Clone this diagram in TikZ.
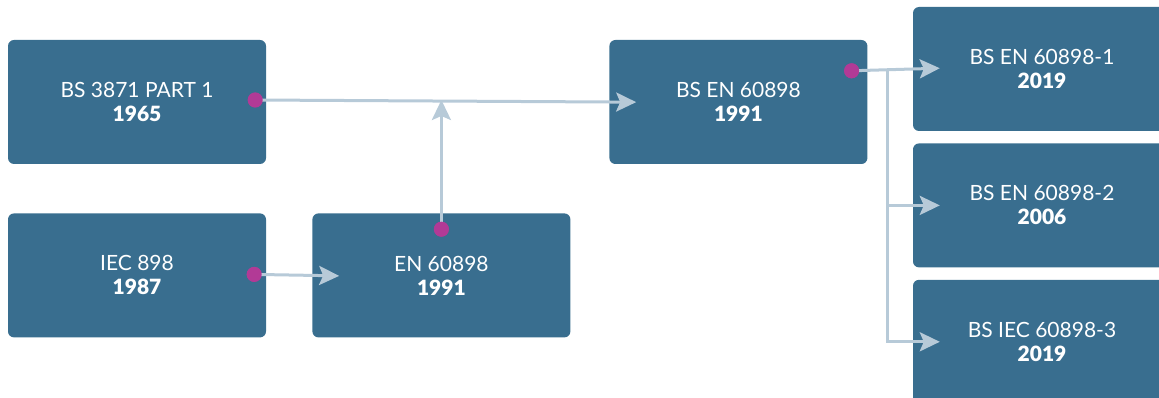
\documentclass[tikz,border=0pt]{standalone}
\usepackage{fontspec}
\IfFontExistsTF{Lato Black}{\setmainfont{Lato}[BoldFont={Lato Black}]}{\setmainfont{Lato}}
\usetikzlibrary{positioning}
\usetikzlibrary{arrows.meta}
\definecolor{myboxblue}{RGB}{57,110,143}
\definecolor{mylinkgrey}{RGB}{183,202,216}
\definecolor{mydotpink}{RGB}{178,58,150}
\newcommand{\std}[2]{#1\\\textbf{#2}}
\newcommand{\widthbox}{258pt}
\newcommand{\heightbox}{124pt}
\tikzset{
    box/.style={fill=myboxblue, rounded corners=6pt, inner sep=0pt, minimum width=\widthbox, minimum height=\heightbox,
        text=white, align=center, font=\fontsize{21}{24}\selectfont},
    dot/.style={circle, fill=mydotpink, inner sep=0pt, minimum size=15pt},
    link/.style={draw=mylinkgrey, line width=3pt, -{Stealth[length=20pt, width=19pt, inset=4pt]}},
    into/.style={shorten >=-27pt},
}
\begin{document}
\begin{tikzpicture}[x=1pt, y=-1pt]
    \clip (0,0) rectangle (1159,398);
    \useasboundingbox (0,0) rectangle (1159,398);
    % left column
    \node[box] (bs3871) at (137,102) {\std{BS 3871 PART 1}{1965}};
    \node[box, below=49pt of bs3871] (iec898) {\std{IEC 898}{1987}};
    \node[box, right=46pt of iec898] (en60898) {\std{EN 60898}{1991}};
    \node[box, right=343pt of bs3871] (bsen60898) {\std{BS EN 60898}{1991}};
    % right column
    \node[box] (part1) at (1042,69) {\std{BS EN 60898-1}{2019}};
    \node[box, below=12pt of part1] (part2) {\std{BS EN 60898-2}{2006}};
    \node[box, below=12pt of part2] (part3) {\std{BS IEC 60898-3}{2019}};
    % connectors
    \node[dot] (p1) at ([xshift=-11pt, yshift=2pt]bs3871.east) {};
    \node[dot] (p2) at ([xshift=-12pt, yshift=1pt]iec898.east) {};
    \node[dot] (p3) at ([yshift=-16pt]en60898.north) {};
    \node[dot] (p4) at ([xshift=-16pt, yshift=-31pt]bsen60898.north east) {};
    \coordinate (fork) at ([xshift=36pt]p4.center);
    \draw[link, into] (p1.center) -- (bsen60898.west);
    \draw[link, into] (p2.center) -- (en60898.west);
    \draw[link] (p3.center) -- (p3 |- p1);
    \draw[link, into] (p4.center) -- (part1.west);
    \draw[link, into] (fork) |- (part2.west);
    \draw[link, into] (fork) |- (part3.west);
    % dots on top
    \foreach \p in {p1,p2,p3,p4}
        \fill[mydotpink] (\p) circle (7.5pt);
\end{tikzpicture}
\end{document}
